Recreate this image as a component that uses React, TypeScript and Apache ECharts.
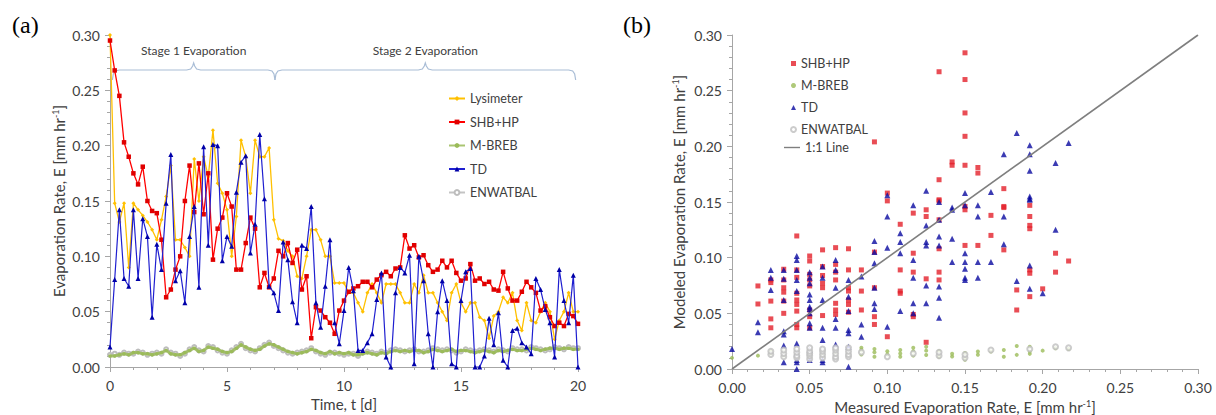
import React, { useEffect, useRef } from 'react';
import * as echarts from 'echarts';

// ---------- Panel (a): time series, sampled every 0.2 day ----------
const timeDays = [0,0.2,0.4,0.6,0.8,1,1.2,1.4,1.6,1.8,2,2.2,2.4,2.6,2.8,3,3.2,3.4,3.6,3.8,4,4.2,4.4,4.6,4.8,5,5.2,5.4,5.6,5.8,6,6.2,6.4,6.6,6.8,7,7.2,7.4,7.6,7.8,8,8.2,8.4,8.6,8.8,9,9.2,9.4,9.6,9.8,10,10.2,10.4,10.6,10.8,11,11.2,11.4,11.6,11.8,12,12.2,12.4,12.6,12.8,13,13.2,13.4,13.6,13.8,14,14.2,14.4,14.6,14.8,15,15.2,15.4,15.6,15.8,16,16.2,16.4,16.6,16.8,17,17.2,17.4,17.6,17.8,18,18.2,18.4,18.6,18.8,19,19.2,19.4,19.6,19.8,20];

const lysimeter = [
  0.30,0.148,0.131,0.148,0.09,0.148,0.142,0.137,0.131,0.124,
  0.115,0.133,0.154,0.182,0.115,0.115,0.108,0.1,0.188,0.15,
  0.19,0.172,0.214,0.166,0.157,0.142,0.1,0.136,0.205,0.19,
  0.157,0.205,0.19,0.19,0.198,0.133,0.116,0.114,0.105,0.1,
  0.082,0.08,0.1,0.124,0.124,0.115,0.1,0.1,0.076,0.076,
  0.076,0.067,0.067,0.058,0.05,0.067,0.075,0.067,0.058,0.075,
  0.075,0.075,0.067,0.058,0.058,0.075,0.067,0.083,0.067,0.067,
  0.058,0.05,0.042,0.067,0.075,0.058,0.05,0.058,0.058,0.045,
  0.042,0.026,0.046,0.05,0.063,0.058,0.067,0.042,0.033,0.058,
  0.042,0.04,0.05,0.058,0.05,0.025,0.042,0.05,0.067,0.05,
  0.05];

const shbHp = [
  0.295,0.268,0.245,0.203,0.19,0.175,0.165,0.181,0.15,0.141,
  0.139,0.115,0.063,0.07,0.088,0.1,0.15,0.182,0.14,0.184,
  0.138,0.175,0.097,0.125,0.135,0.157,0.145,0.088,0.088,0.112,
  0.135,0.125,0.072,0.085,0.072,0.08,0.105,0.1,0.112,0.094,
  0.106,0.07,0.082,0.026,0.054,0.051,0.045,0.04,0.03,0.051,
  0.06,0.068,0.071,0.073,0.077,0.077,0.072,0.079,0.083,0.086,
  0.082,0.089,0.09,0.119,0.107,0.11,0.099,0.101,0.092,0.086,
  0.088,0.096,0.09,0.096,0.085,0.078,0.08,0.093,0.078,0.08,
  0.075,0.077,0.07,0.069,0.086,0.071,0.06,0.06,0.068,0.077,
  0.072,0.067,0.051,0.055,0.045,0.037,0.04,0.037,0.048,0.046,
  0.039];

const mBreb = [
  0.010,
  0.010,0.011,0.012,0.011,0.013, 0.013,0.012,0.012,0.011,0.012,
  0.013,0.015,0.012,0.011,0.011, 0.013,0.015,0.017,0.014,0.015,
  0.018,0.017,0.016,0.014,0.013, 0.014,0.017,0.020,0.018,0.016,
  0.015,0.016,0.019,0.021,0.020, 0.018,0.016,0.014,0.013,0.012,
  0.013,0.014,0.016,0.015,0.013, 0.012,0.014,0.012,0.013,0.012,
  0.013,0.011,0.011,0.012,0.013, 0.012,0.011,0.013,0.012,0.014,
  0.015,0.014,0.015,0.014,0.015, 0.015,0.013,0.014,0.016,0.015,
  0.014,0.015,0.016,0.014,0.015, 0.015,0.014,0.013,0.014,0.015,
  0.014,0.013,0.015,0.014,0.015, 0.016,0.015,0.015,0.016,0.017,
  0.016,0.015,0.016,0.017,0.017, 0.016,0.017,0.017,0.016,0.016];

const td = [
  0.018,0.079,0.142,0.08,0.073,0.142,0.08,0.134,0.118,0.045,
  0.111,0.088,0.148,0.192,0.078,0.087,0.058,0.118,0.145,0.072,
  0.199,0.11,0.201,0.2,0.096,0.118,0.109,0.158,0.185,0.191,
  0.103,0.129,0.21,0.152,0.073,0.067,0.051,0.113,0.097,0.059,
  0.04,0.11,0.107,0.145,0.058,0.036,0.073,0.115,0.04,0.021,
  0.051,0.09,0.069,0.015,0.015,0.022,0.03,0.061,0.085,0.009,
  0.0,0.067,0.09,0.085,0.101,0.003,0.1,0.078,0.03,0.0,
  0.05,0.078,0.06,0.003,0.0,0.06,0.086,0.089,0.0,0.0,
  0.01,0.044,0.02,0.049,0.006,0.0,0.033,0.035,0.022,0.018,
  0.012,0.08,0.07,0.052,0.04,0.009,0.088,0.06,0.04,0.083,
  0.0];

const enwatbal = [
  0.011,
  0.012,0.011,0.013,0.012,0.012, 0.014,0.013,0.011,0.012,0.013,
  0.012,0.016,0.013,0.012,0.010, 0.012,0.016,0.018,0.015,0.014,
  0.019,0.018,0.015,0.013,0.012, 0.015,0.018,0.021,0.017,0.015,
  0.014,0.017,0.020,0.022,0.019, 0.017,0.015,0.013,0.012,0.013,
  0.014,0.015,0.017,0.014,0.012, 0.011,0.013,0.013,0.012,0.011,
  0.012,0.012,0.010,0.013,0.014, 0.013,0.012,0.014,0.013,0.015,
  0.016,0.015,0.014,0.015,0.016, 0.014,0.014,0.015,0.017,0.016,
  0.015,0.016,0.015,0.013,0.014, 0.016,0.015,0.014,0.015,0.016,
  0.015,0.014,0.016,0.015,0.014, 0.017,0.016,0.016,0.015,0.018,
  0.017,0.016,0.015,0.016,0.018, 0.017,0.016,0.018,0.017,0.017];

const stageLabels = ['Stage 1 Evaporation', 'Stage 2 Evaporation'];
const stageRanges = [[0.1, 7.05], [7.05, 19.9]];

// ---------- Panel (b): measured vs modeled ----------
const measuredLevels = [0,0.0167,0.025,0.0333,0.0417,0.05,0.0583,0.0667,0.075,0.0833,0.0917,0.1,0.1083,0.1167,0.125,0.1333,0.1417,0.15,0.1583,0.1667,0.175,0.1833,0.1917,0.2,0.2083,0.2167];

const shbModeled = [
  [],
  [0.0746,0.0584],
  [0.08,0.0776,0.061,0.045,0.037],
  [0.0896,0.08,0.073,0.069,0.061,0.05],
  [0.1195,0.089,0.0823,0.068,0.062,0.058,0.052,0.04,0.037],
  [0.1015,0.097,0.085,0.08,0.0746,0.053,0.047,0.037],
  [0.107,0.092,0.084,0.077,0.073,0.048],
  [0.109,0.094,0.087,0.08,0.059,0.053,0.049],
  [0.108,0.089,0.073,0.07,0.062,0.058,0.051],
  [0.089,0.07,0.053],
  [0.204,0.105,0.073,0.047,0.04],
  [0.158,0.151,0.029],
  [0.13,0.089,0.07,0.068],
  [0.14,0.104,0.087,0.049,0.047],
  [0.143,0.137,0.081,0.024],
  [0.267,0.17,0.152,0.151,0.134,0.108,0.087,0.08],
  [0.186,0.183],
  [0.284,0.26,0.23,0.209,0.183,0.146,0.143,0.111],
  [0.181,0.176,0.111],
  [0.138,0.12],
  [0.162,0.146,0.145,0.107],
  [0.071,0.053],
  [0.147,0.137,0.129,0.126,0.089,0.086,0.065],
  [0.072],
  [0.104,0.087],
  [0.097]];

const mbrebModeled = [
  [0.01],[0.012],[0.014,0.016],[0.012,0.016],[0.013],[0.011],[0.012],[0.013],[0.014],
  [0.013,0.017,0.019],[0.011,0.015,0.018],[0.013,0.016],[0.011,0.014,0.017],[0.012,0.016,0.019],
  [0.0126,0.0165,0.02],[0.011,0.013,0.016],[0.0113,0.0137],[0.0084,0.0113,0.0143],[0.0128,0.0157],
  [0.0157],[0.011,0.017],[0.0127,0.0207],[0.0136,0.0157,0.02],[0.0165],[0.0186],[0.018]];

const tdModeled = [
  [0.018],
  [0.042,0.033],
  [0.089,0.082,0.071],
  [0.089,0.081,0.062,0.034,0.031,0.021,0.006],
  [0.1015,0.098,0.089,0.08,0.07,0.023,0.014,0.008,0.006,0.0],
  [0.087,0.082,0.077,0.067,0.062,0.056,0.054,0.05,0.041,0.037,0.017,0.008],
  [0.092,0.082,0.062,0.037,0.026,0.008,0.006],
  [0.098,0.089,0.073,0.045,0.037,0.022],
  [0.08,0.065,0.052,0.035,0.032,0.02,0.002],
  [0.083,0.04,0.029],
  [0.115,0.105,0.095,0.073,0.059,0.054],
  [0.156,0.137,0.109,0.038],
  [0.122,0.114,0.104,0.052],
  [0.147,0.098,0.082,0.059,0.05],
  [0.16,0.129,0.114,0.111,0.075,0.059],
  [0.15,0.134,0.119,0.111,0.074,0.064,0.046],
  [0.145,0.143,0.117,0.096],
  [0.158,0.147,0.104,0.096,0.09,0.082,0.08],
  [0.147,0.137,0.096,0.082],
  [0.159,0.096],
  [0.193,0.137,0.112],
  [0.212,0.079],
  [0.201,0.193,0.178,0.155,0.153,0.152,0.093,0.072],
  [0.068],
  [0.185,0.125],
  [0.203]];

const enwatbalModeled = [
  [],[],[0.013,0.016],[0.011,0.014,0.017],[0.01,0.012,0.015,0.018],[0.009,0.012,0.014,0.016,0.019],
  [0.01,0.013,0.016,0.018],[0.009,0.011,0.014,0.017,0.019],[0.011,0.013,0.016,0.019],[0.015],[],
  [0.011],[],[0.014],[],[0.012,0.015],[],[0.01,0.013],[],[0.017],[],[],[0.018],[],[0.02],[0.019]];

const oneToOne = [[0, 0], [0.3, 0.3]];

const seriesNamesA = ['Lysimeter', 'SHB+HP', 'M-BREB', 'TD', 'ENWATBAL'];
const seriesNamesB = ['SHB+HP', 'M-BREB', 'TD', 'ENWATBAL'];
const lineNameB = '1:1 Line';

// ---------- helpers ----------
const zipT = (vals: number[]) => vals.map((v, i) => [timeDays[i], v]);
const flatCols = (cols: number[][]) => {
  const out: number[][] = [];
  cols.forEach((ys, i) => ys.forEach((y) => out.push([measuredLevels[i], y])));
  return out;
};

const FONT = 'Lato';
const TXT = '#404040';
const AX = '#A6A6A6';

export default function App() {
  const ref = useRef<HTMLDivElement>(null);
  useEffect(() => {
    if (!ref.current) return;
    const chart = echarts.init(ref.current, null, { renderer: 'svg' });

    const labelStyle = { color: TXT, fontFamily: FONT, fontSize: 14 };
    const nameStyle = {
      color: TXT, fontFamily: FONT, fontSize: 15,
      rich: { sup: { fontSize: 9, verticalAlign: 'top', color: TXT, fontFamily: FONT, lineHeight: 10 } },
    };
    const axisBase = {
      type: 'value',
      axisLine: { show: true, onZero: false, lineStyle: { color: AX, width: 1 } },
      axisTick: { show: true, inside: false, length: 5, lineStyle: { color: AX } },
      minorTick: { show: true, splitNumber: 5, length: 3, lineStyle: { color: AX } },
      splitLine: { show: false },
      minorSplitLine: { show: false },
      nameLocation: 'middle',
      nameTextStyle: nameStyle,
    };
    const fmt2 = (v: number) => v.toFixed(2);
    const legendText = { color: TXT, fontFamily: FONT, fontSize: 12.5 };

    const option: any = {
      animation: false,
      backgroundColor: '#ffffff',
      textStyle: { fontFamily: FONT },
      grid: [
        { left: 110, top: 35, width: 468, height: 332, outerBoundsMode: 'none', containLabel: false },
        { left: 732, top: 35, width: 466, height: 334, outerBoundsMode: 'none', containLabel: false },
      ],
      xAxis: [
        { ...axisBase, gridIndex: 0, min: 0, max: 20, interval: 5,
          axisLabel: { ...labelStyle, margin: 11, formatter: (v: number) => String(v) },
          name: 'Time, t [d]', nameGap: 29 },
        { ...axisBase, gridIndex: 1, min: 0, max: 0.3, interval: 0.05,
          axisLabel: { ...labelStyle, margin: 11, formatter: fmt2 },
          name: 'Measured Evaporation Rate, E [mm hr{sup|-1}]', nameGap: 30 },
      ],
      yAxis: [
        { ...axisBase, gridIndex: 0, min: 0, max: 0.3, interval: 0.05,
          axisLabel: { ...labelStyle, margin: 10, formatter: fmt2 },
          name: 'Evaporation Rate, E [mm hr{sup|-1}]', nameGap: 44 },
        { ...axisBase, gridIndex: 1, min: 0, max: 0.3, interval: 0.05,
          axisLabel: { ...labelStyle, margin: 10, formatter: fmt2 },
          name: 'Modeled Evaporation Rate, E [mm hr{sup|-1}]', nameGap: 46 },
      ],
      legend: [
        {
          left: 448, top: 92, orient: 'vertical', padding: 0, itemWidth: 16, itemHeight: 6, itemGap: 10.5,
          data: seriesNamesA.map((n) => 'a:' + n),
          formatter: (n: string) => n.slice(2),
          textStyle: legendText,
          selectedMode: false,
        },
        {
          left: 790, top: 57, orient: 'vertical', padding: 0, itemWidth: 5, itemHeight: 5, itemGap: 9,
          data: seriesNamesB.map((n) => 'b:' + n),
          formatter: (n: string) => n.slice(2),
          textStyle: legendText,
          selectedMode: false,
        },
        {
          left: 784, top: 141, orient: 'vertical', padding: 0, itemWidth: 16, itemHeight: 6,
          data: [{ name: 'b:' + lineNameB, icon: 'path://M0,0h16v1.4h-16z' }],
          formatter: (n: string) => n.slice(2),
          textStyle: legendText,
          selectedMode: false,
        },
      ],
      series: [
        { name: 'a:Lysimeter', type: 'line', xAxisIndex: 0, yAxisIndex: 0, data: zipT(lysimeter),
          symbol: 'diamond', symbolSize: 4, z: 3,
          lineStyle: { color: '#FFC000', width: 1.3 }, itemStyle: { color: '#FFC000' } },
        { name: 'a:SHB+HP', type: 'line', xAxisIndex: 0, yAxisIndex: 0, data: zipT(shbHp),
          symbol: 'rect', symbolSize: 4.5, z: 4,
          lineStyle: { color: '#FF0000', width: 1.3 }, itemStyle: { color: '#E00000' } },
        { name: 'a:M-BREB', type: 'line', xAxisIndex: 0, yAxisIndex: 0, data: zipT(mBreb),
          symbol: 'circle', symbolSize: 3.5, z: 3,
          lineStyle: { color: '#9BBB59', width: 3, opacity: 0.85 }, itemStyle: { color: '#9BBB59' } },
        { name: 'a:TD', type: 'line', xAxisIndex: 0, yAxisIndex: 0, data: zipT(td),
          symbol: 'triangle', symbolSize: 5, z: 5,
          lineStyle: { color: '#1F1FD0', width: 1.2 }, itemStyle: { color: '#0000A8' } },
        { name: 'a:ENWATBAL', type: 'line', xAxisIndex: 0, yAxisIndex: 0, data: zipT(enwatbal),
          symbol: 'emptyCircle', symbolSize: 4, z: 2,
          lineStyle: { color: '#C4C4C4', width: 1 }, itemStyle: { color: '#BDBDBD', borderWidth: 1 } },

        { name: 'b:SHB+HP', type: 'scatter', xAxisIndex: 1, yAxisIndex: 1, data: flatCols(shbModeled),
          symbol: 'rect', symbolSize: 5, itemStyle: { color: '#E3212B' } },
        { name: 'b:M-BREB', type: 'scatter', xAxisIndex: 1, yAxisIndex: 1, data: flatCols(mbrebModeled),
          symbol: 'circle', symbolSize: 4, itemStyle: { color: '#9BBB59' } },
        { name: 'b:TD', type: 'scatter', xAxisIndex: 1, yAxisIndex: 1, data: flatCols(tdModeled),
          symbol: 'triangle', symbolSize: 6, itemStyle: { color: '#0A0AA0' } },
        { name: 'b:ENWATBAL', type: 'scatter', xAxisIndex: 1, yAxisIndex: 1, data: flatCols(enwatbalModeled),
          symbol: 'emptyCircle', symbolSize: 5, itemStyle: { color: '#BFBFBF', borderWidth: 1 } },
        { name: 'b:' + lineNameB, type: 'line', xAxisIndex: 1, yAxisIndex: 1, data: oneToOne,
          symbol: 'none', z: 5, lineStyle: { color: '#7F7F7F', width: 1.6 }, itemStyle: { color: '#7F7F7F' } },
      ],
    };
    chart.setOption(option);

    // Stage braces (positioned from the time axis)
    const elements: any[] = [];
    const baseY = 70;
    const braceColor = '#A9BDD6';
    stageRanges.forEach(([a, b], i) => {
      const x0 = chart.convertToPixel({ xAxisIndex: 0 }, a) as number;
      const x1 = chart.convertToPixel({ xAxisIndex: 0 }, b) as number;
      const xm = (x0 + x1) / 2;
      const y = baseY;
      const pts = [
        [x0, y + 10], [x0 + 1, y + 4], [x0 + 3, y + 1], [x0 + 7, y],
        [xm - 7, y], [xm - 3, y - 1], [xm - 1, y - 4], [xm, y - 7],
        [xm + 1, y - 4], [xm + 3, y - 1], [xm + 7, y],
        [x1 - 7, y], [x1 - 3, y + 1], [x1 - 1, y + 4], [x1, y + 10],
      ];
      elements.push({ type: 'polyline', shape: { points: pts }, style: { stroke: braceColor, lineWidth: 1.2, fill: null }, silent: true });
      elements.push({ type: 'text', x: xm, y: 50, style: { text: stageLabels[i], fill: TXT, font: `12px ${FONT}`, textAlign: 'center', textVerticalAlign: 'middle' }, silent: true });
    });
    elements.push({ type: 'text', x: 12, y: 25, style: { text: '(a)', fill: '#000', font: '24px "Liberation Serif", "Times New Roman", serif', textAlign: 'left', textVerticalAlign: 'middle' } });
    elements.push({ type: 'text', x: 623, y: 25, style: { text: '(b)', fill: '#000', font: '24px "Liberation Serif", "Times New Roman", serif', textAlign: 'left', textVerticalAlign: 'middle' } });
    chart.setOption({ graphic: { elements } });

    return () => chart.dispose();
  }, []);
  return <div ref={ref} style={{ position: 'absolute', left: 0, top: 0, width: 1216, height: 415 }} />;
}
